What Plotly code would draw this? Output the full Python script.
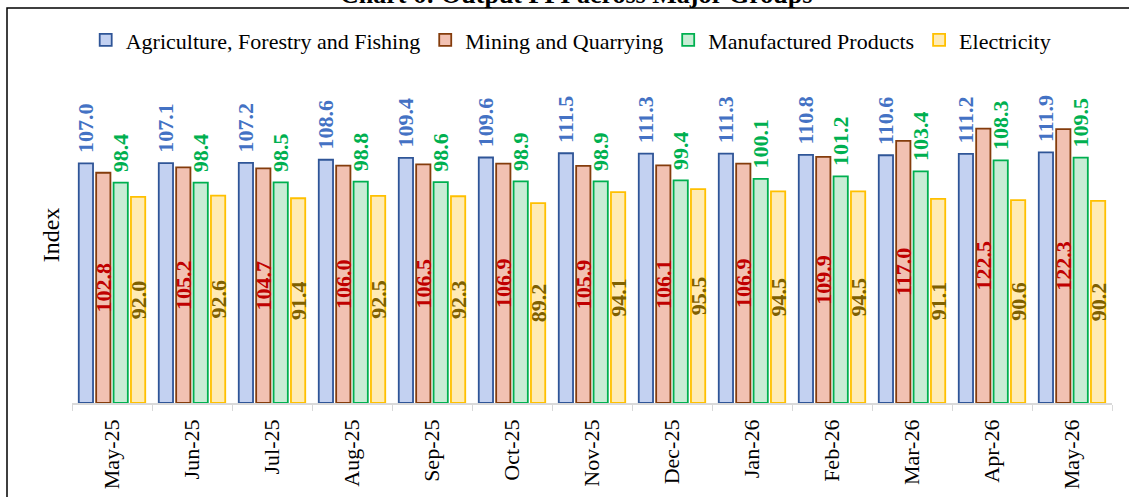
import plotly.graph_objects as go

months = ["May-25", "Jun-25", "Jul-25", "Aug-25", "Sep-25", "Oct-25", "Nov-25",
          "Dec-25", "Jan-26", "Feb-26", "Mar-26", "Apr-26", "May-26"]
agriculture = [107.0, 107.1, 107.2, 108.6, 109.4, 109.6, 111.5, 111.3, 111.3, 110.8, 110.6, 111.2, 111.9]
mining = [102.8, 105.2, 104.7, 106.0, 106.5, 106.9, 105.9, 106.1, 106.9, 109.9, 117.0, 122.5, 122.3]
manufactured = [98.4, 98.4, 98.5, 98.8, 98.6, 98.9, 98.9, 99.4, 100.1, 101.2, 103.4, 108.3, 109.5]
electricity = [92.0, 92.6, 91.4, 92.5, 92.3, 89.2, 94.1, 95.5, 94.5, 94.5, 91.1, 90.6, 90.2]

FONT = "Times New Roman, Liberation Serif, serif"
PAD = "\u00a0\u200a"

series = [
    ("Agriculture, Forestry and Fishing", agriculture, "#C3D1F1", "#2F5597", "#4472C4", "outside"),
    ("Mining and Quarrying", mining, "#F2C1B2", "#843C0C", "#C00000", "inside"),
    ("Manufactured Products", manufactured, "#C8EDD5", "#00B050", "#00B050", "outside"),
    ("Electricity", electricity, "#FFEBB5", "#FFC000", "#7F6000", "inside"),
]

fig = go.Figure()
for name, vals, fill, line, tcol, pos in series:
    if pos == "outside":
        texts = [PAD + f"{v:.1f}" for v in vals]
    else:
        texts = [f"{v:.1f}" for v in vals]
    fig.add_trace(go.Bar(
        name=name, x=months, y=vals,
        marker=dict(color=fill, line=dict(color=line, width=1.8)),
        text=texts, textposition=pos, textangle=-90,
        insidetextanchor="middle", constraintext="none",
        textfont=dict(family=FONT, size=22, color=tcol, weight="bold"),
        cliponaxis=False, hoverinfo="skip",
    ))

fig.update_layout(
    width=1129, height=497,
    margin=dict(l=72, r=17, t=67, b=94),
    paper_bgcolor="white", plot_bgcolor="white",
    barmode="group", bargap=0.13, bargroupgap=0.18,
    font=dict(family=FONT, size=22, color="black"),
    legend=dict(orientation="h", x=0.48, xanchor="center", y=1.08, yanchor="middle",
                font=dict(family=FONT, size=22, color="black"),
                bgcolor="rgba(0,0,0,0)", itemwidth=30, tracegroupgap=0),
    xaxis=dict(showline=True, linecolor="#D9D9D9", linewidth=1.5, automargin=False,
               ticks="outside", tickson="boundaries", ticklen=6, tickcolor="#D9D9D9",
               tickangle=-90, tickfont=dict(family=FONT, size=22, color="black"),
               ticklabelstandoff=6, showgrid=False, zeroline=False),
    yaxis=dict(range=[0, 150], showticklabels=False, showgrid=False, zeroline=False,
               showline=False, ticks="", automargin=False,
               title=dict(text="Index", font=dict(family=FONT, size=24, color="black"), standoff=4)),
    shapes=[dict(type="rect", xref="paper", yref="paper", x0=-0.0625, x1=1.05, y0=-0.4, y1=1.1756,
                 line=dict(color="black", width=1.5), fillcolor="rgba(0,0,0,0)", layer="above")],
    annotations=[dict(text="<b>Chart 6: Output PPI across Major Groups</b>", xref="paper", yref="paper",
                      x=0.485, y=1.168, xanchor="center", yanchor="bottom", showarrow=False,
                      font=dict(family=FONT, size=26, color="black"))],
)

fig.write_html("out.html", config={"displayModeBar": False},
               post_script="document.body.style.margin='0';document.body.style.overflow='hidden';")
